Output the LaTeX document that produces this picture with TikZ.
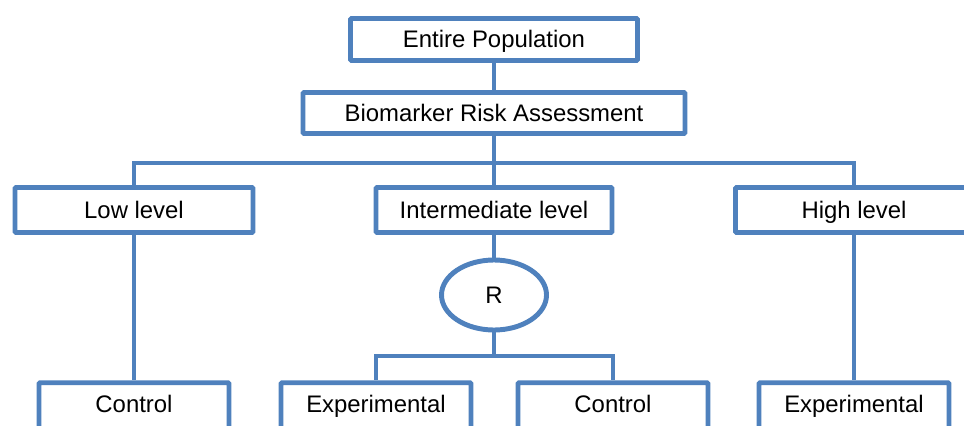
\documentclass[tikz,border=0pt]{standalone}
\usepackage{fontspec}
\setmainfont{Liberation Sans}
\usetikzlibrary{shapes.geometric}
\definecolor{boxblue}{RGB}{79,129,189}
\begin{document}
\begin{tikzpicture}[x=0.03cm, y=-0.03cm,
    box/.style={rectangle, draw=boxblue, line width=4.2pt, fill=white, rounded corners=1pt,
      inner sep=0pt, text height=14pt, text depth=0pt, font=\fontsize{20.4}{24}\selectfont},
    leaf/.style={box, minimum width=5.7cm, anchor=base, text height=25pt, text depth=20pt},
    link/.style={draw=boxblue, line width=4.2pt}]
  \useasboundingbox (0,0) rectangle (964,425);

  \node[box, minimum width=8.61cm, minimum height=1.26cm] (entire) at (494,39.5) {Entire Population};
  \node[box, minimum width=11.46cm, minimum height=1.23cm] (bio) at (494,113) {Biomarker Risk Assessment};

  \node[box, minimum width=7.14cm, minimum height=1.35cm] (low) at (134,210) {Low level};
  \node[box, minimum width=7.08cm, minimum height=1.35cm] (inter) at (494,210) {Intermediate level};
  \node[box, minimum width=7.11cm, minimum height=1.35cm] (high) at (854,210) {High level};

  \node[ellipse, draw=boxblue, line width=4.2pt, fill=white, minimum width=3.15cm, minimum height=2.1cm,
    inner sep=0pt, font=\fontsize{20.4}{24}\selectfont] (rand) at (494,295) {R};

  \node[leaf] (ctlA) at (134,412) {Control};
  \node[leaf] (expB) at (376,412) {Experimental};
  \node[leaf] (ctlB) at (613,412) {Control};
  \node[leaf] (expC) at (854,412) {Experimental};

  \coordinate (bus) at (494,163);
  \coordinate (split) at (494,356);

  \draw[link] (entire) -- (bio);
  \draw[link] (bio.south) -- (bus) -| (low.north);
  \draw[link] (bus) -| (high.north);
  \draw[link] (bus) -- (inter.north);
  \draw[link] (low.south) -- (ctlA.north);
  \draw[link] (high.south) -- (expC.north);
  \draw[link] (inter) -- (rand);
  \draw[link] (rand.south) -- (split) -| (expB.north);
  \draw[link] (split) -| (ctlB.north);
\end{tikzpicture}
\end{document}
